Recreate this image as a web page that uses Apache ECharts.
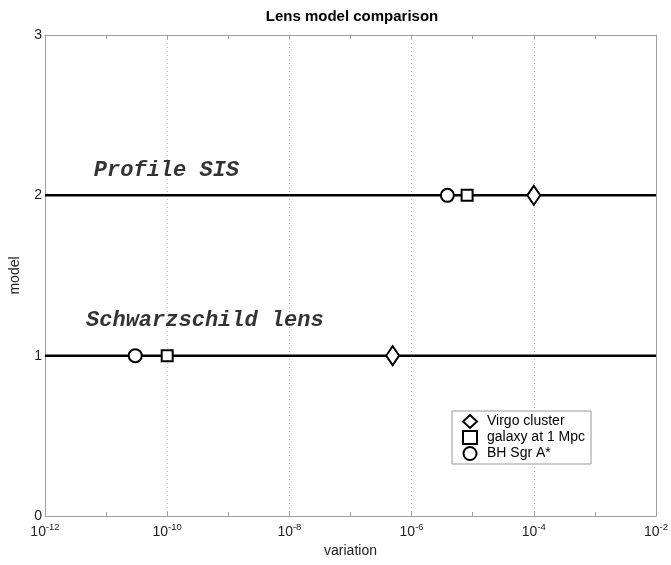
<!DOCTYPE html>
<html>
<head>
<meta charset="utf-8">
<script src="https://cdn.jsdelivr.net/npm/echarts@6/dist/echarts.min.js"></script>
<style>html,body{margin:0;padding:0;background:#fff}#c{width:671px;height:565px}</style>
</head>
<body>
<div id="c"></div>
<script>
// ---- data ----
const xRange = [1e-12, 1e-2];
const models = [1, 2];
const modelNames = ['Schwarzschild lens', 'Profile SIS'];
const seriesNames = ['Virgo cluster', 'galaxy at 1 Mpc', 'BH Sgr A*'];
// values for [model 1, model 2]
const virgo = [4.9e-7, 1e-4];
const galaxy = [1e-10, 8.1e-6];
const bhSgr = [3.0e-11, 3.85e-6];
// annotation anchors [x, y] in data units
const noteAnchors = [[4.7e-12, 1.22], [6.3e-12, 2.158]];

// ---- chart ----
const chart = echarts.init(document.getElementById('c'), null, {renderer: 'canvas'});
const expOf = v => Math.round(Math.log10(v));
const gray = '#a0a0a0';
const txt = '#222';
const baseX = {
  type: 'log', logBase: 10, min: xRange[0], max: xRange[1], interval: 1,
  gridIndex: 0
};
const markerStyle = {color: '#fff', borderColor: '#000', borderWidth: 2, opacity: 1};
const symbols = ['diamond', 'rect', 'circle'];
const sizes = [[13, 19], 11, 13];
const vals = [virgo, galaxy, bhSgr];

const series = [];
models.forEach((m, i) => {
  series.push({
    type: 'line', name: 'model' + m, silent: true, symbol: 'none', z: 2,
    lineStyle: {color: '#000', width: 2.5},
    data: [[xRange[0], m], [xRange[1], m]]
  });
});
seriesNames.forEach((n, k) => {
  series.push({
    type: 'scatter', name: n, symbol: symbols[k], symbolSize: sizes[k], z: 5,
    itemStyle: markerStyle,
    emphasis: {disabled: true},
    data: models.map((m, i) => [vals[k][i], m])
  });
});
series.push({
  type: 'scatter', name: 'notes', symbolSize: 0, silent: true, z: 6,
  data: noteAnchors.map((a, i) => ({value: a, name: modelNames[i]})),
  label: {
    show: true, position: 'right', distance: 0, formatter: p => p.name,
    fontFamily: 'Liberation Mono', fontWeight: 'bold', fontStyle: 'italic',
    fontSize: 22, color: '#000'
  }
});

const option = {
  backgroundColor: '#fff',
  animation: false,
  title: {
    text: 'Lens model comparison', left: 347, textAlign: 'center', top: 4,
    textStyle: {fontFamily: 'Liberation Sans', fontWeight: 'bold', fontSize: 15, color: '#000'}
  },
  grid: {left: 44, right: 15, top: 35, bottom: 49, containLabel: false},
  legend: {
    orient: 'vertical', left: 452, top: 411,
    padding: [3, 6, 3, 10], itemGap: 1, itemWidth: 14, itemHeight: 13,
    backgroundColor: '#fff', borderColor: '#999', borderWidth: 1,
    textStyle: {fontFamily: 'Liberation Sans', fontSize: 14, lineHeight: 13, color: '#000', padding: [0, 0, 0, 5]},
    data: seriesNames.map((n, k) => ({
      name: n, icon: symbols[k],
      itemStyle: {color: '#fff', borderColor: '#000', borderWidth: 2, opacity: 1}
    })),
    selectedMode: false
  },
  xAxis: [
    Object.assign({}, baseX, {
      position: 'bottom', name: 'variation', nameLocation: 'middle', nameGap: 28,
      nameTextStyle: {fontFamily: 'Liberation Sans', fontSize: 14, color: txt},
      axisLine: {show: true, lineStyle: {color: gray, width: 1}},
      axisTick: {show: true, inside: true, length: 4, lineStyle: {color: gray}},
      splitLine: {show: false},
      axisLabel: {
        margin: 6,
        formatter: v => { const e = expOf(v); return e % 2 === 0 ? '{b|10}{s|' + e + '}' : ''; },
        rich: {
          b: {fontFamily: 'Liberation Sans', fontSize: 14, color: txt},
          s: {fontFamily: 'Liberation Sans', fontSize: 9.5, color: txt, padding: [0, 0, 10, 0]}
        }
      }
    }),
    Object.assign({}, baseX, {
      position: 'bottom', interval: 2,
      axisLine: {show: false}, axisTick: {show: false}, axisLabel: {show: false},
      splitLine: {show: true, lineStyle: {color: '#bbb', type: [1, 3], width: 1}}
    }),
    Object.assign({}, baseX, {
      position: 'top',
      axisLine: {show: true, lineStyle: {color: gray, width: 1}},
      axisTick: {show: true, inside: true, length: 4, lineStyle: {color: gray}},
      axisLabel: {show: false}, splitLine: {show: false}
    })
  ],
  yAxis: [
    {
      type: 'value', min: 0, max: 3, interval: 1, position: 'left',
      name: 'model', nameLocation: 'middle', nameGap: 23,
      nameTextStyle: {fontFamily: 'Liberation Sans', fontSize: 14, color: txt},
      axisLine: {show: true, lineStyle: {color: gray, width: 1}},
      axisTick: {show: true, inside: true, length: 4, lineStyle: {color: gray}},
      axisLabel: {fontFamily: 'Liberation Sans', fontSize: 14, color: txt, margin: 3},
      splitLine: {show: false}
    },
    {
      type: 'value', min: 0, max: 3, interval: 1, position: 'right',
      axisLine: {show: true, lineStyle: {color: gray, width: 1}},
      axisTick: {show: true, inside: true, length: 4, lineStyle: {color: gray}},
      axisLabel: {show: false}, splitLine: {show: false}
    }
  ],
  series: series
};
chart.setOption(option);
</script>
</body>
</html>
